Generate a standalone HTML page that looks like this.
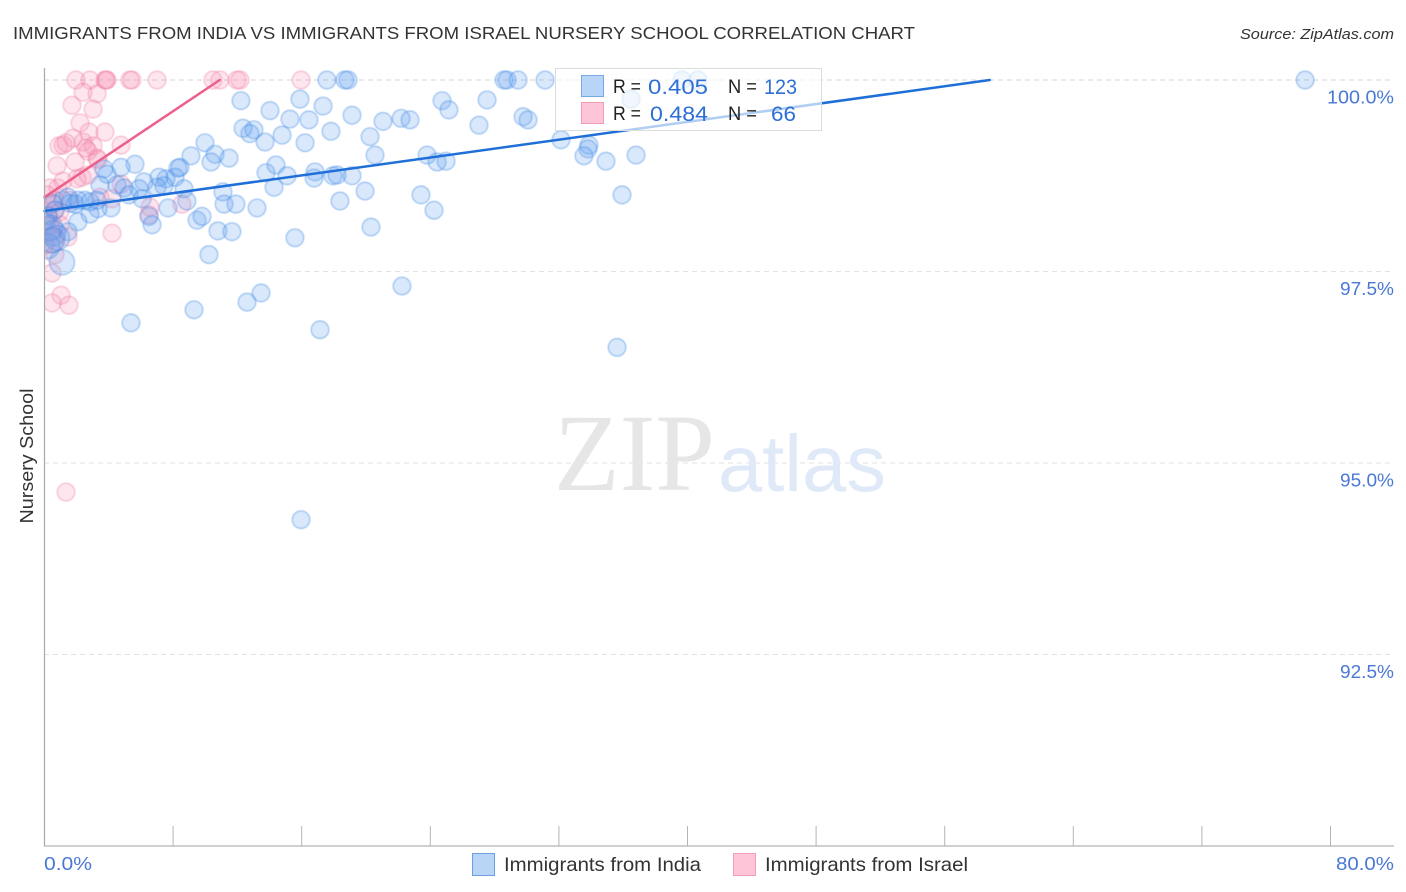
<!DOCTYPE html>
<html lang="en">
<head>
<meta charset="utf-8">
<title>Immigrants from India vs Immigrants from Israel Nursery School Correlation Chart</title>
<style>
html,body{margin:0;padding:0;background:#fff;width:1406px;height:892px;overflow:hidden}
svg{display:block;font-family:"Liberation Sans",sans-serif}
</style>
</head>
<body>
<svg id="chart" width="1406" height="892" viewBox="0 0 1406 892" xmlns="http://www.w3.org/2000/svg">
  <defs>
    <clipPath id="plot-clip"><rect x="45" y="60" width="1349" height="786"/></clipPath>
    <filter id="soft" x="-5%" y="-5%" width="110%" height="110%"><feGaussianBlur stdDeviation="0.4"/></filter>
  </defs>
  <rect x="0" y="0" width="1406" height="892" fill="#ffffff"/>
  <text x="13" y="39" font-size="17.5" fill="#333333" textLength="902" lengthAdjust="spacingAndGlyphs">IMMIGRANTS FROM INDIA VS IMMIGRANTS FROM ISRAEL NURSERY SCHOOL CORRELATION CHART</text>
  <text x="1394" y="39" font-size="15" font-style="italic" fill="#333333" text-anchor="end" textLength="154" lengthAdjust="spacingAndGlyphs">Source: ZipAtlas.com</text>

  <g id="grid"></g>

  <g>
    <text x="554" y="490" font-family="'Liberation Serif',serif" font-size="110" fill="#e6e6e6" textLength="161" lengthAdjust="spacingAndGlyphs">ZIP</text>
    <text x="718" y="491" font-size="80" fill="#e0e9f8" textLength="168" lengthAdjust="spacingAndGlyphs">atlas</text>
  </g>

  <g id="marks-israel" clip-path="url(#plot-clip)" filter="url(#soft)"></g>
  <g id="marks-india" clip-path="url(#plot-clip)" filter="url(#soft)"></g>
  <line id="trend-israel" stroke="#ec5f8a" stroke-width="2.5" stroke-linecap="round"/>
  <line id="trend-india" stroke="#1f6fd9" stroke-width="2.5" stroke-linecap="round"/>

  <g id="axes">
    <line x1="44.5" y1="68" x2="44.5" y2="846" stroke="#a8a8a8" stroke-width="1.2"/>
    <line x1="44" y1="846" x2="1394" y2="846" stroke="#b4b4b4" stroke-width="1.2"/>
  </g>
  <g id="x-ticks"></g>
  <g id="y-labels"></g>

  <text transform="translate(33,456) rotate(-90)" font-size="18" fill="#333333" text-anchor="middle" textLength="135" lengthAdjust="spacingAndGlyphs">Nursery School</text>
  <text x="44" y="870" font-size="18.5" fill="#4a78d4" textLength="48" lengthAdjust="spacingAndGlyphs">0.0%</text>
  <text x="1394" y="870" font-size="18.5" fill="#4a78d4" text-anchor="end" textLength="58" lengthAdjust="spacingAndGlyphs">80.0%</text>

  <g>
    <rect x="555.5" y="68.5" width="266" height="62" fill="#ffffff" fill-opacity="0.65" stroke="#dcdcdc" stroke-width="1"/>
    <rect x="581.5" y="75.5" width="22" height="21" fill="#b8d4f7" stroke="#7aa8e6" stroke-width="1"/>
    <rect x="581.5" y="102.5" width="22" height="21" fill="#fdc5d7" stroke="#f29bb7" stroke-width="1"/>
    <text x="613" y="93" font-size="19" fill="#222222" textLength="28" lengthAdjust="spacingAndGlyphs">R =</text>
    <text x="648" y="94" font-size="21" fill="#2f6fd4" textLength="60" lengthAdjust="spacingAndGlyphs">0.405</text>
    <text x="728" y="93" font-size="19" fill="#222222" textLength="29" lengthAdjust="spacingAndGlyphs">N =</text>
    <text x="764" y="94" font-size="21" fill="#2f6fd4" textLength="33" lengthAdjust="spacingAndGlyphs">123</text>
    <text x="613" y="120" font-size="19" fill="#222222" textLength="28" lengthAdjust="spacingAndGlyphs">R =</text>
    <text x="650" y="121" font-size="21" fill="#2f6fd4" textLength="58" lengthAdjust="spacingAndGlyphs">0.484</text>
    <text x="728" y="120" font-size="19" fill="#222222" textLength="29" lengthAdjust="spacingAndGlyphs">N =</text>
    <text x="771" y="121" font-size="21" fill="#2f6fd4" textLength="25" lengthAdjust="spacingAndGlyphs">66</text>
  </g>

  <g>
    <g>
      <rect x="472.5" y="853.5" width="22" height="22" fill="#b8d4f7" stroke="#6f9fe0" stroke-width="1"/>
      <text x="504" y="871" font-size="19.5" fill="#333333" textLength="197" lengthAdjust="spacingAndGlyphs">Immigrants from India</text>
    </g>
    <g>
      <rect x="733.5" y="853.5" width="22" height="22" fill="#fdc5d7" stroke="#f0a0ba" stroke-width="1"/>
      <text x="765" y="871" font-size="19.5" fill="#333333" textLength="203" lengthAdjust="spacingAndGlyphs">Immigrants from Israel</text>
    </g>
  </g>
</svg>
<script>
// ---- chart data (percent values) ----
var xTickValues = [0, 8, 16, 24, 32, 40, 48, 56, 64, 72, 80];
var yTickValues = [100, 97.5, 95, 92.5];
var yTickLabels = ["100.0%", "97.5%", "95.0%", "92.5%"];

var indiaX = [12.22,14.03,15.27,12.35,13.03,12.78,13.72,14.78,15.89,16.21,9.98,10.61,10.36,11.48,9.11,8.43,8.30,8.12,7.56,7.12,7.43,7.00,8.68,6.19,5.88,5.63,4.76,3.89,3.70,3.45,4.51,4.95,5.26,6.07,8.86,11.10,11.17,11.91,13.22,13.78,14.40,15.09,14.28,15.58,7.68,6.50,6.69,9.49,9.80,10.79,11.66,10.23,4.14,3.33,2.83,2.52,1.90,2.08,1.46,1.15,0.65,5.38,9.30,12.60,13.47,17.57,18.69,18.88,17.33,19.13,16.45,17.82,21.06,22.18,22.74,20.25,20.56,24.73,25.16,27.53,27.03,29.77,30.08,28.59,28.77,29.46,31.14,36.49,39.66,40.65,32.13,33.87,33.81,33.56,34.93,36.80,35.93,23.80,24.42,24.98,23.42,24.23,20.31,22.24,17.14,16.83,16.77,17.95,18.20,19.13,19.94,18.38,35.62,15.96,78.42,1.46,0.53,0.09,0.22,2.08,3.26,2.83,1.59];
var indiaY = [99.73,99.60,99.49,99.37,99.35,99.30,99.19,99.28,99.75,99.18,99.18,99.03,98.93,98.98,99.01,98.86,98.85,98.73,98.71,98.73,98.62,98.60,98.58,98.67,98.58,98.90,98.86,98.77,98.84,98.63,98.63,98.59,98.50,98.45,98.42,98.54,98.38,98.38,98.33,98.79,98.89,98.75,98.60,97.94,98.33,98.22,98.11,98.17,98.22,98.03,98.02,97.72,98.33,98.32,98.25,98.43,98.38,98.15,98.02,98.43,98.30,96.83,97.00,97.10,97.22,100,100,100,99.66,99.54,99.48,99.33,99.46,99.50,99.48,99.26,99.02,99.73,99.61,99.74,99.41,99.52,99.48,100,100,100,100,99.75,100,100,99.22,99.15,99.10,99.01,98.94,99.02,98.50,99.02,98.93,98.94,98.50,98.30,98.08,97.31,96.74,98.80,98.72,98.75,98.76,98.75,98.55,98.42,96.51,94.26,100,98.47,98.39,98.15,98.22,98.43,98.43,98.41,98.39];
// larger-population India points near the origin
var indiaLargeX = [0.53,0.78,1.09,0.34,0.16,0.47];
var indiaLargeY = [98.00,97.94,97.62,98.07,97.83,97.91];

var israelX = [1.96,2.83,3.76,3.83,3.89,5.32,5.44,7.00,10.48,10.92,11.98,12.16,15.96,2.40,3.27,1.71,3.02,2.21,2.77,3.76,4.76,1.77,0.90,1.15,1.34,2.40,3.02,2.58,2.71,1.90,3.27,3.33,0.78,2.33,2.02,1.15,0.84,0.34,2.71,4.76,3.45,4.20,6.56,8.55,6.50,4.20,1.46,0.65,0.47,0.47,1.03,1.52,1.34,0.65,0.34,0.65,0.22,0.96,1.59,0.34,0.47,0.03,0.96,0.16];
var israelY = [100,100,100,100,100,100,100,100,100,100,100,100,100,99.84,99.82,99.67,99.62,99.44,99.32,99.32,99.15,99.24,99.14,99.15,99.18,99.19,99.14,99.11,99.07,98.93,98.98,98.96,98.88,98.73,98.71,98.68,98.59,98.59,98.76,98.64,98.47,98.45,98.34,98.38,98.24,98.00,97.95,97.72,97.48,97.09,97.19,97.06,94.62,98.30,98.37,98.43,98.24,98.28,98.43,98.11,97.98,97.85,98.11,98.50];
var israelLargeX = [0.22,0.40];
var israelLargeY = [98.05,97.90];

var indiaTrendX = [0, 58.8];
var indiaTrendY = [98.29, 100];
var israelTrendX = [0, 10.9];
var israelTrendY = [98.47, 100];

// ---- axis functions ----
function xScale(v) { return 44.5 + v * (1286 / 80); }
function yScale(v) { return 80 + (100 - v) * 76.6; }

var NS = "http://www.w3.org/2000/svg";
function make(tag) { return document.createElementNS(NS, tag); }

// gridlines and y labels
var gridGroup = document.getElementById("grid");
var yLabelGroup = document.getElementById("y-labels");
yTickValues.forEach(function (v, i) {
  var gl = make("line");
  
  
  gl.setAttribute("x1", 44);
  gl.setAttribute("x2", 1394);
  gl.setAttribute("y1", yScale(v));
  gl.setAttribute("y2", yScale(v));
  gl.setAttribute("stroke", i === 0 ? "#d4d4d4" : "#e2e2e2");
  gl.setAttribute("stroke-width", "1");
  gl.setAttribute("stroke-dasharray", "5 4");
  gridGroup.appendChild(gl);

  var tx = make("text");
  
  
  tx.setAttribute("x", 1394);
  tx.setAttribute("y", yScale(v) + 23.5);
  tx.setAttribute("font-size", "18.5");
  tx.setAttribute("fill", "#4a78d4");
  tx.setAttribute("text-anchor", "end");
  tx.setAttribute("textLength", i === 0 ? 67 : 54);
  tx.setAttribute("lengthAdjust", "spacingAndGlyphs");
  tx.textContent = yTickLabels[i];
  yLabelGroup.appendChild(tx);
});

// x ticks
var xTickGroup = document.getElementById("x-ticks");
xTickValues.slice(1).forEach(function (v) {
  var t = make("line");
  
  
  t.setAttribute("x1", xScale(v));
  t.setAttribute("x2", xScale(v));
  t.setAttribute("y1", 826);
  t.setAttribute("y2", 846);
  t.setAttribute("stroke", "#b4b4b4");
  t.setAttribute("stroke-width", "1");
  xTickGroup.appendChild(t);
});

// points
function drawPoints(groupId, xs, ys, r, fill, stroke, name) {
  var g = document.getElementById(groupId);
  xs.forEach(function (x, i) {
    var c = make("circle");
    
    
    c.setAttribute("cx", xScale(x));
    c.setAttribute("cy", yScale(ys[i]));
    c.setAttribute("r", r);
    c.setAttribute("fill", fill);
    c.setAttribute("stroke", stroke);
    c.setAttribute("stroke-width", "1.1");
    g.appendChild(c);
  });
}
var pinkFill = "rgba(247,140,178,0.22)", pinkStroke = "rgba(238,120,160,0.5)";
var blueFill = "rgba(95,160,240,0.24)", blueStroke = "rgba(60,135,228,0.52)";
drawPoints("marks-israel", israelX, israelY, 8.8, pinkFill, pinkStroke, "israel-point");
drawPoints("marks-israel", israelLargeX, israelLargeY, 12, pinkFill, pinkStroke, "israel-point-large");
drawPoints("marks-india", indiaX, indiaY, 8.8, blueFill, blueStroke, "india-point");
drawPoints("marks-india", indiaLargeX, indiaLargeY, 12.5, blueFill, blueStroke, "india-point-large");

// trend lines
function setLine(id, xs, ys) {
  var l = document.getElementById(id);
  l.setAttribute("x1", xScale(xs[0]));
  l.setAttribute("y1", yScale(ys[0]));
  l.setAttribute("x2", xScale(xs[1]));
  l.setAttribute("y2", yScale(ys[1]));
}
setLine("trend-india", indiaTrendX, indiaTrendY);
setLine("trend-israel", israelTrendX, israelTrendY);
</script>
</body>
</html>
